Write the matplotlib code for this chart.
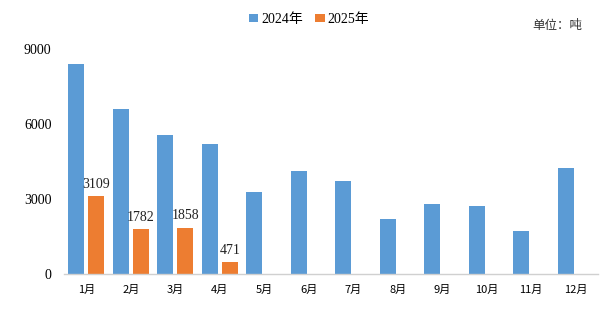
import matplotlib
matplotlib.use("Agg")
import matplotlib.pyplot as plt
import numpy as np

months = ["1月", "2月", "3月", "4月", "5月", "6月", "7月", "8月", "9月", "10月", "11月", "12月"]
vals_2024 = [8420, 6610, 5570, 5210, 3290, 4130, 3730, 2210, 2810, 2730, 1730, 4250]
vals_2025 = [3109, 1782, 1858, 471]
series_names = ["2024年", "2025年"]
yticks = [0, 3000, 6000, 9000]
unit_text = "单位：吨"

c24 = "#5B9BD5"
c25 = "#ED7D31"
cjk = ["Noto Sans CJK SC", "DejaVu Sans"]
serif = ["Liberation Serif", "Noto Sans CJK SC"]

fig = plt.figure(figsize=(6.16, 3.23), dpi=100)
ax = fig.add_axes([64/616, 49/323, 534/616, 225/323])

x = np.arange(len(months))
w = 0.36
off = 0.225
b1 = ax.bar(x - off, vals_2024, w, color=c24, label=series_names[0])
x25 = x[:len(vals_2025)]
b2 = ax.bar(x25 + off, vals_2025, w, color=c25, label=series_names[1])
for xi, v in zip(x25, vals_2025):
    ax.text(xi + off, v + 220, str(v), ha="center", va="bottom",
            fontsize=10, family=serif, color="#222222")

ax.set_xlim(-0.5, len(months) - 0.5)
ax.set_ylim(0, 9000)
ax.set_yticks(yticks)
ax.set_yticklabels([str(t) for t in yticks], family=serif, fontsize=10)
ax.set_xticks(x)
ax.set_xticklabels(months, family=cjk, fontsize=8)
ax.tick_params(axis="both", length=0)
ax.tick_params(axis="y", pad=9)
ax.tick_params(axis="x", pad=8)
for s in ["top", "right", "left"]:
    ax.spines[s].set_visible(False)
ax.spines["bottom"].set_color("#D0D0D0")
ax.spines["bottom"].set_linewidth(1.0)

leg = fig.legend(handles=[b1, b2], labels=series_names, loc="center",
                 bbox_to_anchor=(309/616, 1 - 19/323), ncol=2, frameon=False,
                 prop={"family": serif, "size": 10}, handlelength=0.7, handleheight=0.5,
                 handletextpad=0.2, columnspacing=0.9, borderpad=0.2)
fig.text(557/616, 1 - 25/323, unit_text, ha="center", va="center",
         family=cjk, fontsize=9, color="#333333")

fig.savefig("out.png", dpi=100)
